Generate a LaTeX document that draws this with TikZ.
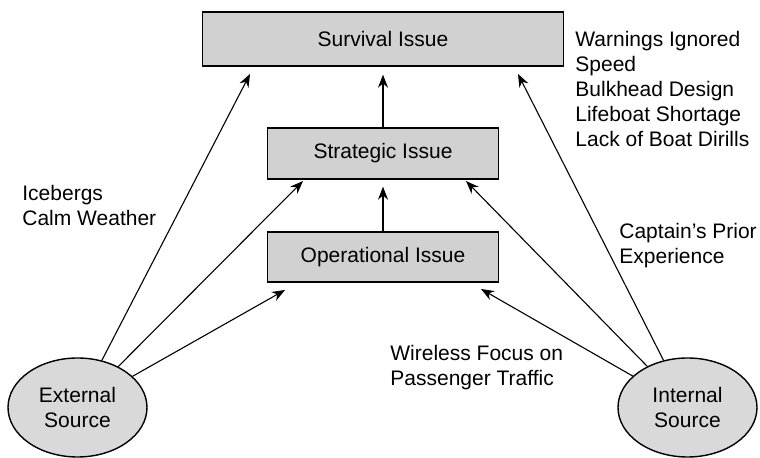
\documentclass[tikz,border=0pt]{standalone}
\usepackage{fontspec}
\setmainfont{Liberation Sans}
\usetikzlibrary{shapes.geometric, arrows.meta}

\tikzset{
  issue/.style={rectangle, draw, line width=0.7pt, fill=gray!36, inner sep=0pt},
  source/.style={ellipse, draw, line width=0.7pt, fill=gray!30, minimum width=69.5pt, minimum height=49.5pt, inner sep=0pt, align=center},
  flow/.style={-{Stealth[length=6.5pt, width=5pt]}, line width=0.55pt},
  note/.style={anchor=north west, inner sep=0pt, align=left},
}

\begin{document}
\begin{tikzpicture}[x=0.5pt, y=-0.5pt, font=\fontsize{10.5}{12.5}\selectfont]
            \useasboundingbox (0,0) rectangle (760,458);

            \node[issue, minimum width=180.5pt, minimum height=27pt] (surv) at (383,39) {Survival Issue};
            \node[issue, minimum width=115.5pt, minimum height=25.5pt] (strat) at (383,153.5) {Strategic Issue};
            \node[issue, minimum width=115.5pt, minimum height=25pt] (oper) at (383,257) {Operational Issue};

            \node[source] (ext) at (77.5,407.5) {External\\Source};
            \node[source] (int) at (687.5,407.5) {Internal\\Source};

            \node[note] (causes) at (575,31) {Warnings Ignored\\Speed\\Bulkhead Design\\Lifeboat Shortage\\Lack of Boat Dirills};
            \node[note] (nature) at (22,185) {Icebergs\\Calm Weather};
            \node[note] (captain) at (619,223) {Captain's Prior\\Experience};
            \node[note] (wireless) at (390,345) {Wireless Focus on\\Passenger Traffic};

            \coordinate (survL) at (250,74);
            \coordinate (survR) at (518,74);
            \coordinate (stratL) at (303,181);
            \coordinate (stratR) at (466,181);
            \coordinate (operL) at (285,290);
            \coordinate (operR) at (481,289);

            \draw[flow] (ext) -- (survL);
            \draw[flow] (ext) -- (stratL);
            \draw[flow] (ext) -- (operL);
            \draw[flow] (int) -- (survR);
            \draw[flow] (int) -- (stratR);
            \draw[flow] (int) -- (operR);
            \draw[flow, shorten >=4pt] (strat) -- (surv);
            \draw[flow, shorten >=3.5pt] (oper) -- (strat);
        \end{tikzpicture}
\end{document}
